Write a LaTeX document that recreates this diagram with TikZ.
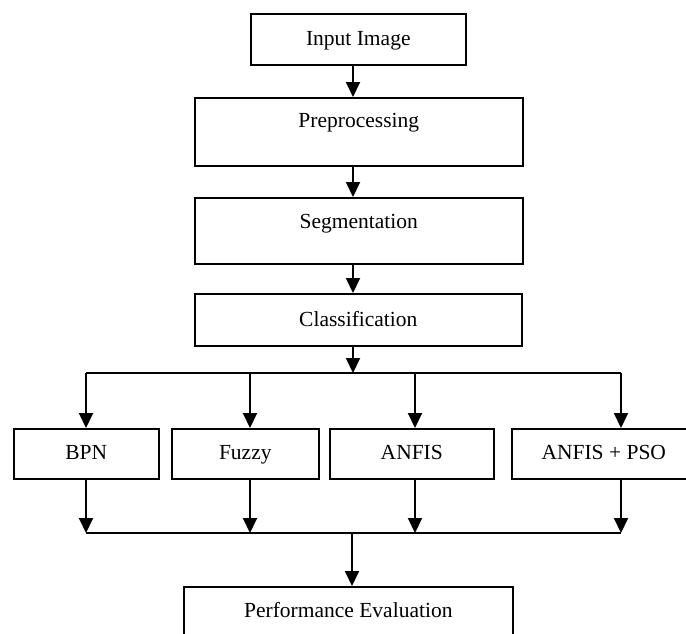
\documentclass[tikz,border=0pt]{standalone}
\usepackage{fontspec}
\setmainfont{Liberation Serif}
\usepackage{tikz}
\usetikzlibrary{arrows.meta}
\newcommand{\widthstage}{328pt}
\tikzset{
    common/.style={anchor=north west, draw, rectangle, line width=1.6pt, inner sep=0pt, font=\fontsize{21.5}{25}\selectfont},
    box/.style args={#1/#2}{common, text height=#1, text depth=#2},
    stage/.style={box=#1, minimum width=\widthstage},
    method/.style={box=31pt/19pt},
    wire/.style={line width=2pt},
    flow/.style={wire, -{Triangle[width=14pt, length=15pt]}}
}

\begin{document}
\begin{tikzpicture}[x=1pt, y=-1pt]
      \useasboundingbox (0,0) rectangle (686,633);
      \clip (0,0) rectangle (686,633);
      \path
          (250,13) node[box=32pt/19pt, minimum width=215pt] (inp) {Input Image}
          (194,97) node[stage=30pt/38pt] (pre) {Preprocessing}
          (194,197) node[stage=31pt/35pt] (seg) {Segmentation}
          (194,293) node[stage=33pt/19pt, minimum width=327pt] (cls) {Classification}
          (13,428) node[method, minimum width=145pt] (bpn) {BPN}
          (171,428) node[method, minimum width=147pt] (fuzzy) {Fuzzy}
          (329,428) node[method, minimum width=164pt] (anfis) {ANFIS}
          (511,428) node[method, minimum width=184pt] (pso) {ANFIS + PSO}
          (183,586) node[stage=31pt/39pt, minimum width=329pt] (perf) {Performance Evaluation};

      \coordinate (axis) at (353,0);
      \coordinate (fork) at (353,373);
      \coordinate (join) at (352,533);
      \coordinate (b1) at (86,373);
      \coordinate (b2) at (250,373);
      \coordinate (b3) at (415,373);
      \coordinate (b4) at (621,373);

      \draw[flow] (inp.south -| axis) -- (pre.north -| axis);
      \draw[flow] (pre.south -| axis) -- (seg.north -| axis);
      \draw[flow] (seg.south -| axis) -- (cls.north -| axis);
      \draw[flow] (cls.south -| axis) -- (fork);
      \draw[wire] (b1) -- (b4);
      \foreach \i/\m in {1/bpn, 2/fuzzy, 3/anfis, 4/pso} {
          \draw[flow] (b\i) -- (b\i |- \m.north);
          \draw[flow] (b\i |- \m.south) -- (b\i |- join);
      }
      \draw[wire] (b1 |- join) -- (b4 |- join);
      \draw[flow] (join) -- (join |- perf.north);
  \end{tikzpicture}
\end{document}
